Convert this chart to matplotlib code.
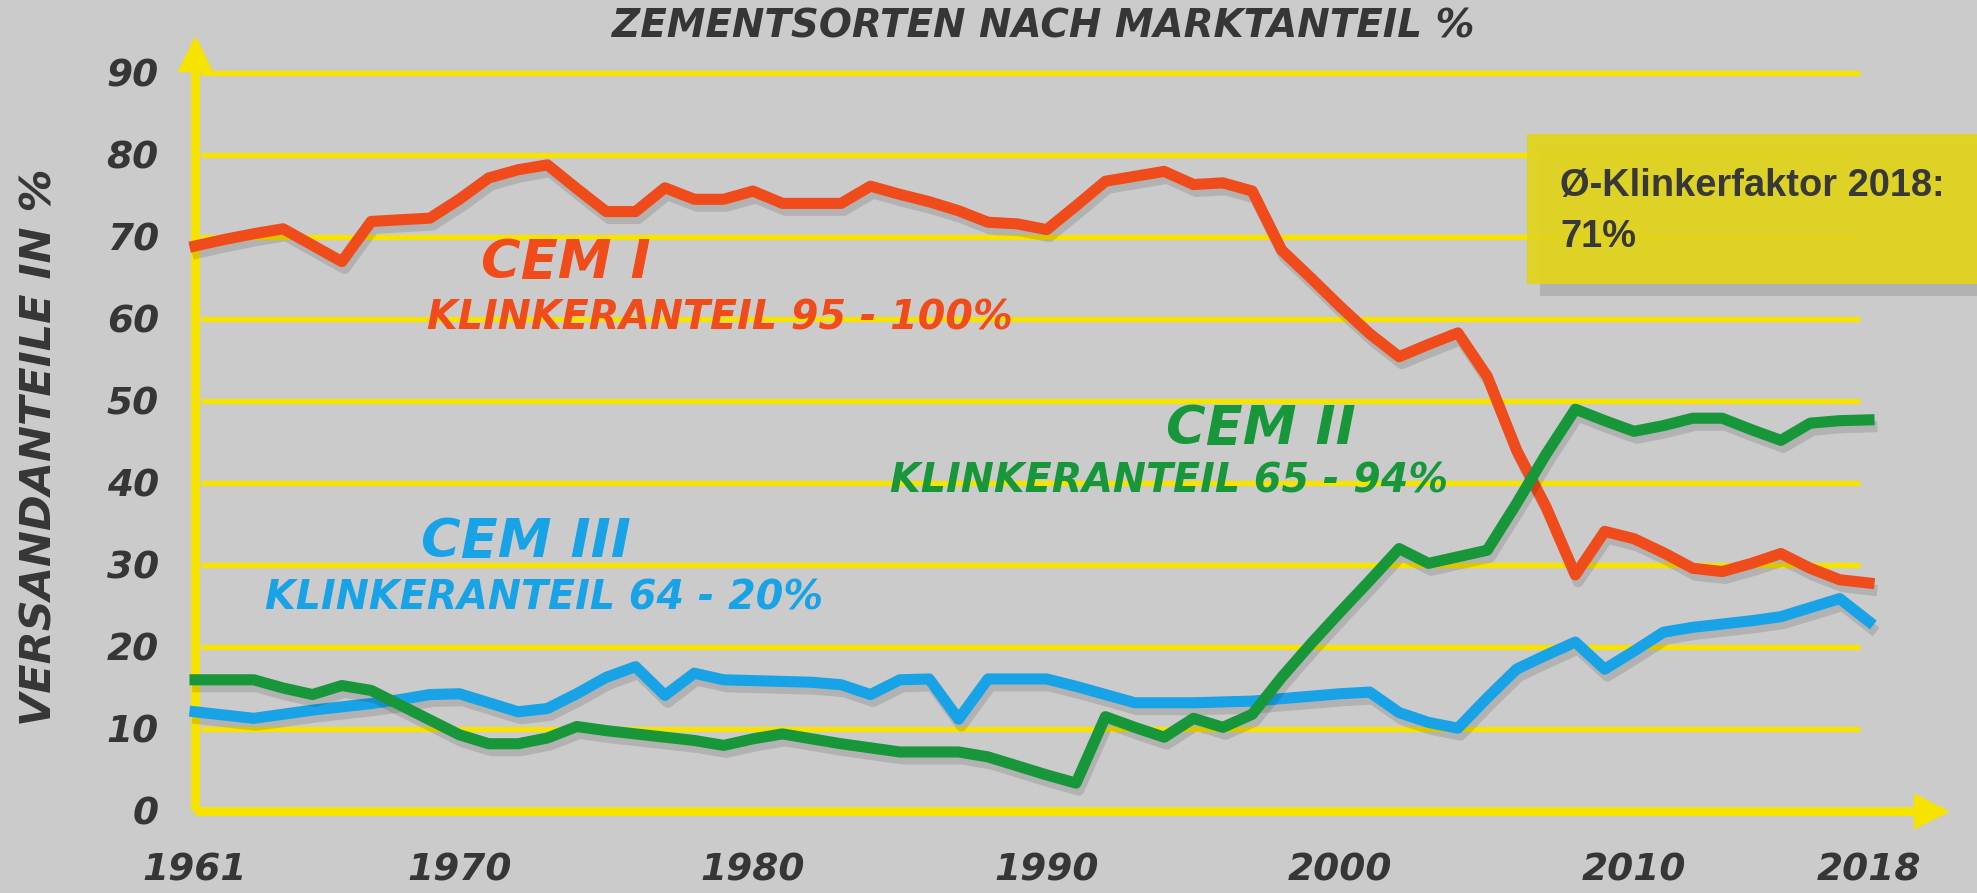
import matplotlib
matplotlib.use("Agg")
from matplotlib import pyplot as plt
import matplotlib.patheffects as pe
from matplotlib.patches import Rectangle

years = list(range(1961, 2019))

cem_1 = [68.9, 69.7, 70.4, 71.0, 69.0, 67.0, 71.9, 72.1, 72.3, 74.6,
         77.2, 78.2, 78.8, 75.9, 73.1, 73.1, 76.0, 74.6, 74.6, 75.6,
         74.1, 74.1, 74.1, 76.2, 75.2, 74.3, 73.2, 71.8, 71.6, 70.9,
         73.8, 76.8, 77.4, 78.0, 76.4, 76.6, 75.6, 68.4, 65.0, 61.5,
         58.2, 55.4, 56.9, 58.3, 53.0, 44.0, 37.1, 28.8, 34.1, 33.2,
         31.5, 29.6, 29.2, 30.2, 31.4, 29.6, 28.2, 27.8]

cem_2 = [16.0, 16.0, 16.0, 15.0, 14.2, 15.3, 14.7, 12.9, 11.1, 9.3,
         8.2, 8.2, 8.9, 10.3, 9.8, 9.4, 9.0, 8.6, 8.0, 8.8,
         9.4, 8.8, 8.2, 7.7, 7.2, 7.2, 7.2, 6.6, 5.5, 4.4,
         3.4, 11.5, 10.2, 9.0, 11.3, 10.2, 11.8, 16.3, 20.4, 24.3,
         28.1, 32.0, 30.2, 31.0, 31.8, 37.5, 43.5, 49.0, 47.6, 46.3,
         47.0, 47.9, 47.9, 46.5, 45.2, 47.3, 47.6, 47.7]

cem_3 = [12.1, 11.7, 11.3, 11.8, 12.3, 12.7, 13.1, 13.6, 14.2, 14.3,
         13.2, 12.1, 12.5, 14.3, 16.3, 17.6, 14.1, 16.8, 16.0, 15.9,
         15.8, 15.7, 15.4, 14.2, 16.0, 16.1, 11.2, 16.1, 16.1, 16.1,
         15.2, 14.2, 13.2, 13.2, 13.2, 13.3, 13.4, 13.7, 14.0, 14.3,
         14.5, 12.0, 10.8, 10.1, 13.8, 17.3, 19.0, 20.6, 17.3, 19.5,
         21.8, 22.4, 22.8, 23.2, 23.7, 24.8, 25.9, 23.1]

y_ticks = [0, 10, 20, 30, 40, 50, 60, 70, 80, 90]
x_ticks = [1961, 1970, 1980, 1990, 2000, 2010, 2018]

RED = "#ef4b1b"
GREEN = "#17973a"
BLUE = "#18a3e6"
YELLOW = "#f6e300"
DARK = "#363636"
hand = dict(fontweight="bold", fontstyle="italic", family="DejaVu Sans")

fig = plt.figure(figsize=(19.77, 8.93), dpi=100)
fig.patch.set_facecolor("#cbcbcb")
ax = fig.add_axes([0.09864, 0.09183, 0.88417, 0.86114])
ax.set_facecolor("none")
ax.set_xlim(1961, 2020.52)
ax.set_ylim(0, 93.78)

# yellow axes with arrow heads
for side in ["top", "right"]:
    ax.spines[side].set_visible(False)
for side in ["left", "bottom"]:
    ax.spines[side].set_color(YELLOW)
    ax.spines[side].set_linewidth(6.5)
    ax.spines[side].set_capstyle("butt")
ax.plot(0.993, 0, ">", ms=24, color=YELLOW, transform=ax.get_yaxis_transform(), clip_on=False)
ax.plot(1961, 0.984, "^", ms=24, color=YELLOW, transform=ax.get_xaxis_transform(), clip_on=False)

ax.hlines(y_ticks[1:], 1961.2, 2017.7, colors=YELLOW, lw=3.8, zorder=1)

ax.set_yticks(y_ticks)
ax.set_xticks(x_ticks)
ax.tick_params(length=0, labelsize=27, labelcolor=DARK)
ax.tick_params(axis="y", pad=26)
ax.tick_params(axis="x", pad=30)
for lab in ax.get_xticklabels() + ax.get_yticklabels():
    lab.set_fontweight("bold")
    lab.set_fontstyle("italic")

shadow = [pe.SimpleLineShadow(offset=(2, -5), shadow_color="black", alpha=0.12), pe.Normal()]
for vals, col in [(cem_1, RED), (cem_3, BLUE), (cem_2, GREEN)]:
    ax.plot(years, vals, color=col, lw=8, solid_joinstyle="round",
            path_effects=shadow, zorder=3, clip_on=False)

# series labels
ax.text(1970.74, 66.8, "CEM I", color=RED, fontsize=39, va="center", **hand)
ax.text(1968.9, 60.1, "KLINKERANTEIL 95 - 100%", color=RED, fontsize=28.5, va="center", **hand)
ax.text(1994.06, 46.6, "CEM II", color=GREEN, fontsize=39, va="center", **hand)
ax.text(1984.66, 40.2, "KLINKERANTEIL 65 - 94%", color=GREEN, fontsize=28.5, va="center", **hand)
ax.text(1968.7, 32.8, "CEM III", color=BLUE, fontsize=39, va="center", **hand)
ax.text(1963.38, 25.9, "KLINKERANTEIL 64 - 20%", color=BLUE, fontsize=28.5, va="center", **hand)

fig.text(1043 / 1977, 1 - 27 / 893, "ZEMENTSORTEN NACH MARKTANTEIL %", color=DARK,
         fontsize=28, ha="center", va="center", **hand)
fig.text(40 / 1977, 1 - 447 / 893, "VERSANDANTEILE IN %", color=DARK, fontsize=31,
         rotation=90, ha="center", va="center", **hand)

# yellow info box
fig.patches.append(Rectangle((1540 / 1977, 1 - 296 / 893), 437 / 1977, 150 / 893,
                             transform=fig.transFigure, facecolor="black", alpha=0.12,
                             edgecolor="none", zorder=5))
fig.patches.append(Rectangle((1527 / 1977, 1 - 284 / 893), 450 / 1977, 150 / 893,
                             transform=fig.transFigure, facecolor="#e2d41e", alpha=0.95,
                             edgecolor="none", zorder=6))
fig.text(1560 / 1977, 1 - 196 / 893, "Ø-Klinkerfaktor 2018:", color="#383838", fontsize=27.4,
         fontweight="bold", family="Liberation Sans", va="baseline", zorder=7)
fig.text(1560 / 1977, 1 - 247 / 893, "71%", color="#383838", fontsize=27.4,
         fontweight="bold", family="Liberation Sans", va="baseline", zorder=7)

fig.savefig("out.png", dpi=100, facecolor=fig.get_facecolor())
